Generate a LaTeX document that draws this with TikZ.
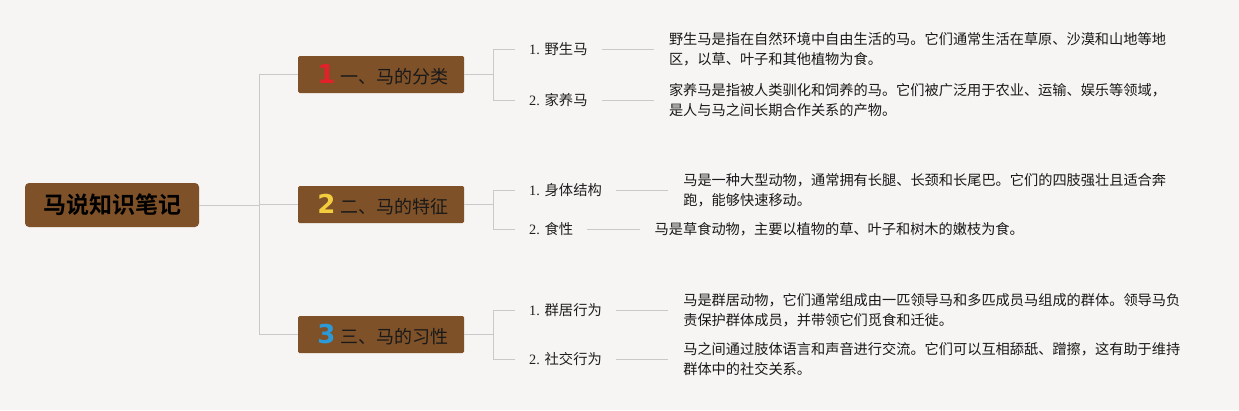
\documentclass[tikz,border=0pt]{standalone}
\usepackage{fontspec}
\setmainfont{Liberation Serif}
\newfontfamily\cjk{Noto Sans CJK SC}[BoldFont={Noto Sans CJK SC Bold}]
\newfontfamily\numfont{DejaVu Sans}
\usetikzlibrary{positioning}
\definecolor{horsebrown}{HTML}{7E5129}
\definecolor{paper}{HTML}{F7F5F3}
\definecolor{wirecol}{HTML}{C9C9C9}
\definecolor{numred}{HTML}{E3212B}
\definecolor{numyellow}{HTML}{F4CD3E}
\definecolor{numblue}{HTML}{2B9AD6}
\tikzset{
  rootbox/.style={fill=horsebrown, rounded corners=4pt, minimum width=174pt, minimum height=44pt, inner sep=0pt, font=\cjk\bfseries\fontsize{23}{23}\selectfont},
  catbox/.style={fill=horsebrown, rounded corners=1.5pt, minimum width=166pt, minimum height=37pt, inner sep=0pt, text=black!90, font=\cjk\fontsize{18}{18}\selectfont},
  leaf/.style={anchor=west, inner xsep=14pt, text=black!88, font=\fontsize{14.3}{16}\selectfont},
  note/.style={align=left, inner xsep=15pt, inner ysep=0pt, text=black!90, font=\cjk\fontsize{14.2}{20}\selectfont},
  wire/.style={draw=wirecol, line width=0.9pt}
}

\begin{document}
\begin{tikzpicture}[x=1pt,y=-1pt]
  \fill[paper] (0,0) rectangle (1239,410);
  \useasboundingbox (0,0) rectangle (1239,410);

  % root and the three branches
  \node[rootbox] (root) at (112,205) {马说知识笔记};
  \coordinate (hub) at (259,205);
  \draw[wire] (root) -- (hub);
  \foreach \i/\y/\c/\t in {1/74.5/numred/一、马的分类,2/204.5/numyellow/二、马的特征,3/334.5/numblue/三、马的习性}{
     \node[catbox] (cat\i) at (381,\y) {\hspace{4pt}{\numfont\bfseries\fontsize{26}{26}\selectfont\color{\c}\i}\hspace{5pt}\t};
     \coordinate (brace\i) at (493,\y);
     \draw[wire] (hub) |- (cat\i.west);
     \draw[wire] (cat\i.east) -- (brace\i);
  }

  % leaves
  \node[leaf] (wild) at (515,49) {1. {\cjk 野生马}};
  \node[leaf] (tame) at (515,100) {2. {\cjk 家养马}};
  \node[leaf] (body) at (515,190) {1. {\cjk 身体结构}};
  \node[leaf] (diet) at (515,229) {2. {\cjk 食性}};
  \node[leaf] (herd) at (515,310) {1. {\cjk 群居行为}};
  \node[leaf] (social) at (515,359) {2. {\cjk 社交行为}};

  \node[note, right=52pt of wild] (wildnote) {野生马是指在自然环境中自由生活的马。它们通常生活在草原、沙漠和山地等地\\区，以草、叶子和其他植物为食。};
  \node[note, right=52pt of tame] (tamenote) {家养马是指被人类驯化和饲养的马。它们被广泛用于农业、运输、娱乐等领域，\\是人与马之间长期合作关系的产物。};
  \node[note, right=52pt of body] (bodynote) {马是一种大型动物，通常拥有长腿、长颈和长尾巴。它们的四肢强壮且适合奔\\跑，能够快速移动。};
  \node[note, right=52pt of diet] (dietnote) {马是草食动物，主要以植物的草、叶子和树木的嫩枝为食。};
  \node[note, right=52pt of herd] (herdnote) {马是群居动物，它们通常组成由一匹领导马和多匹成员马组成的群体。领导马负\\责保护群体成员，并带领它们觅食和迁徙。};
  \node[note, right=52pt of social] (socialnote) {马之间通过肢体语言和声音进行交流。它们可以互相舔舐、蹭擦，这有助于维持\\群体中的社交关系。};

  \foreach \a/\b/\k in {wild/tame/1,body/diet/2,herd/social/3}{
     \draw[wire] (brace\k) |- (\a.west);
     \draw[wire] (brace\k) |- (\b.west);
     \draw[wire] (\a) -- (\a note);
     \draw[wire] (\b) -- (\b note);
  }
\end{tikzpicture}
\end{document}
